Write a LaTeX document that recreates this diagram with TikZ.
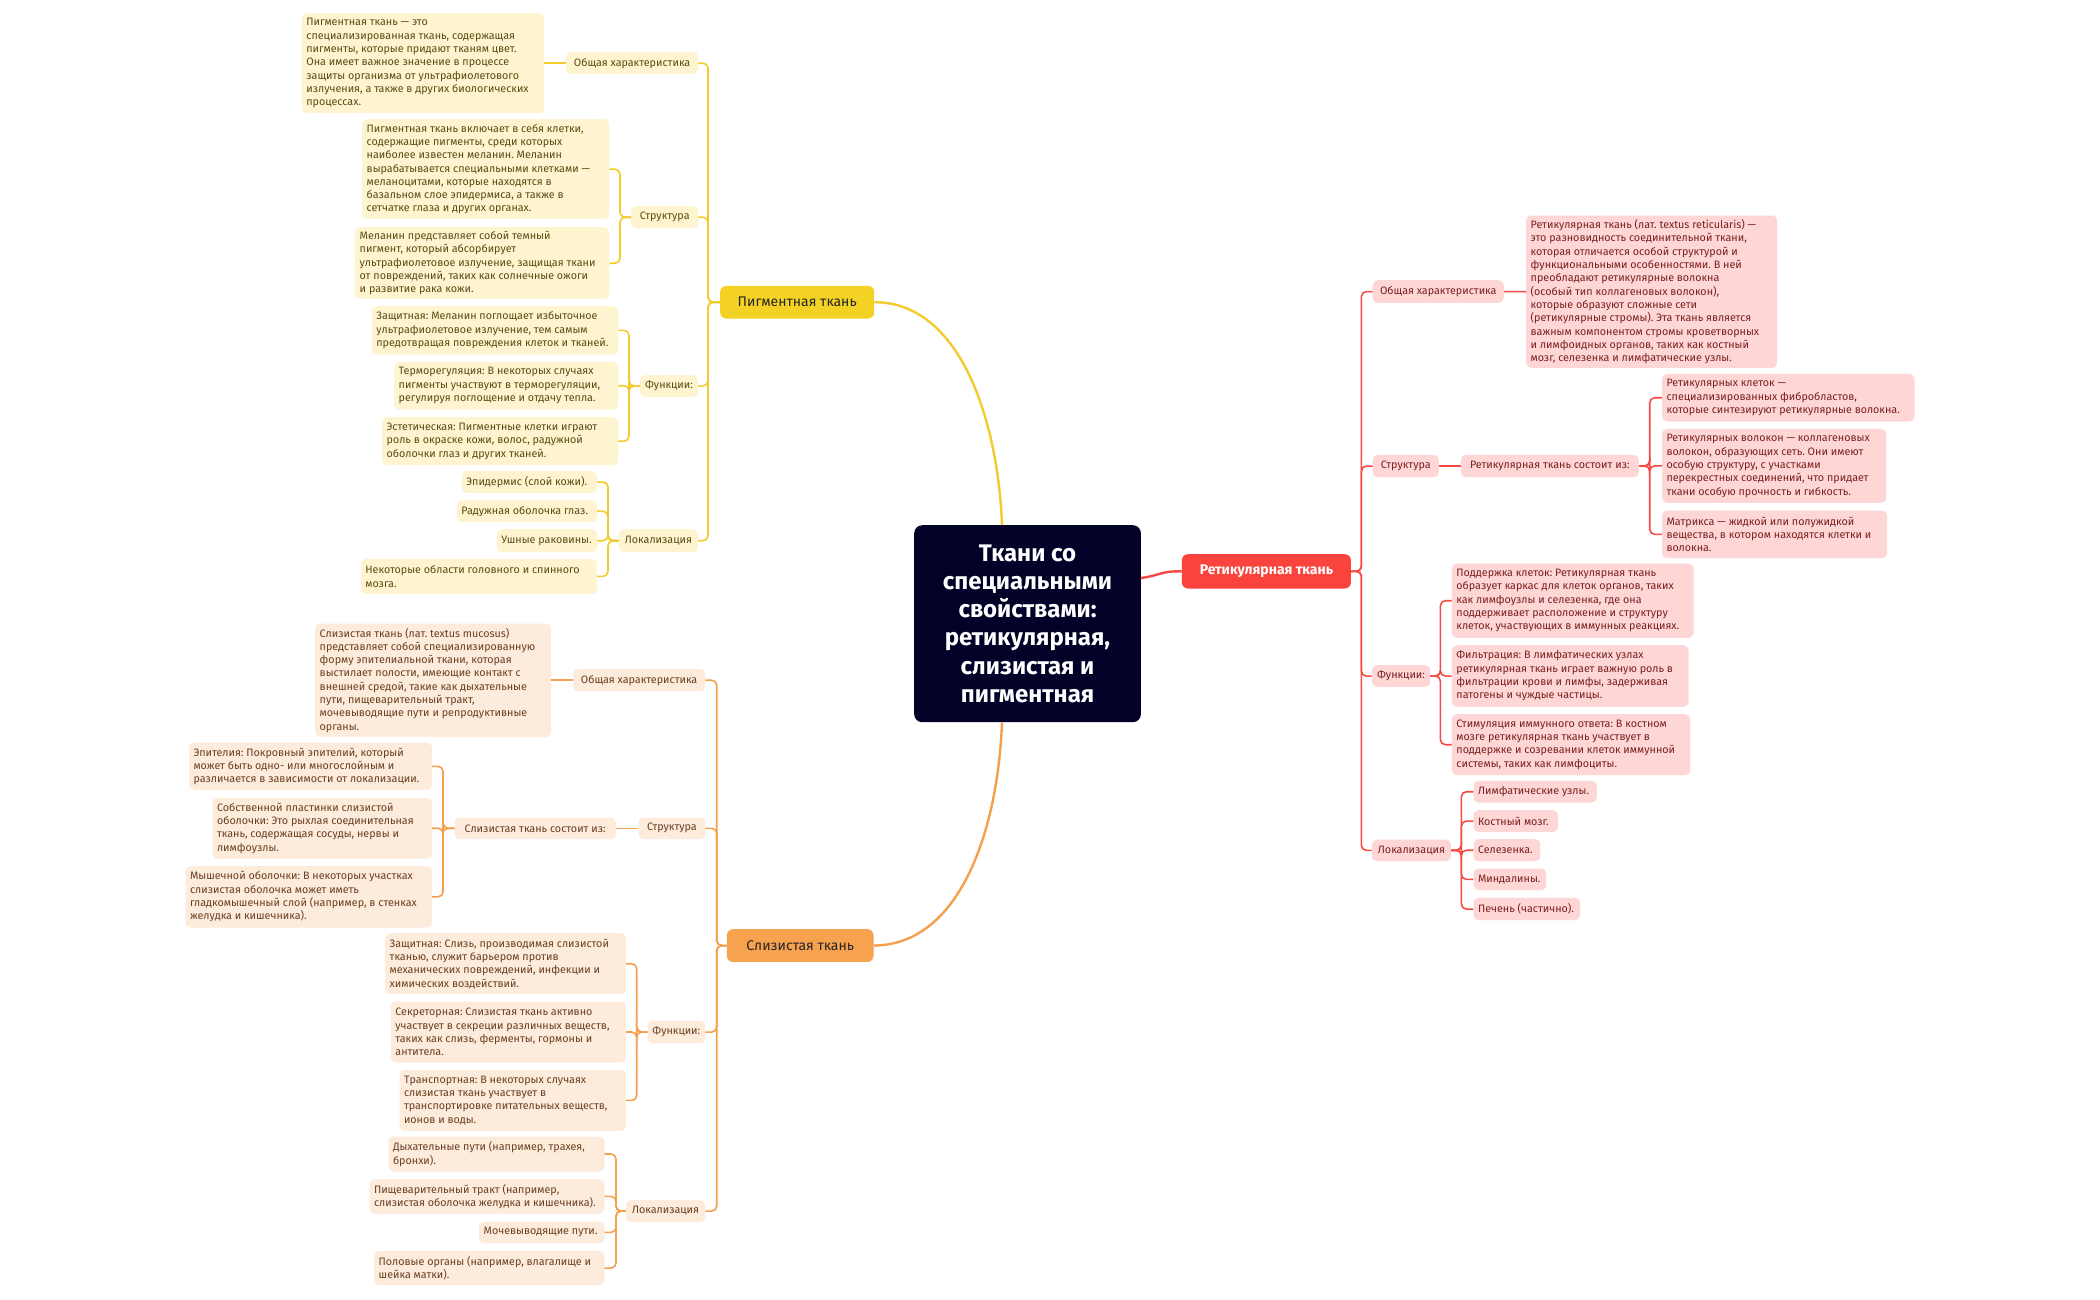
\documentclass[tikz,border=0pt]{standalone}
\usepackage{fontspec}
\setmainfont{Fira Sans}
\frenchspacing
\definecolor{pigM}{HTML}{F4D224}
\definecolor{pigL}{HTML}{FEF5D0}
\definecolor{pigLn}{HTML}{F2CC2C}
\definecolor{pigT}{HTML}{5B4B12}
\definecolor{mucM}{HTML}{F7A24E}
\definecolor{mucL}{HTML}{FDEBDB}
\definecolor{mucLn}{HTML}{F5A04C}
\definecolor{mucT}{HTML}{6A4020}
\definecolor{retM}{HTML}{F9443E}
\definecolor{retL}{HTML}{FED6D6}
\definecolor{retLn}{HTML}{F74A45}
\definecolor{retT}{HTML}{7A2020}
\definecolor{ctrF}{HTML}{020228}
% leaf: box + left-aligned text
\newcommand\nd[7]{%
  \pgfmathsetmacro\ndw{#5-#3}%
  \pgfmathsetmacro\ndh{#6-#4}%
  \node[#2, anchor=north west, minimum width=\ndw pt, minimum height=\ndh pt] (#1) at (#3,#4) {};
  \node[#2, fill=none, anchor=west, inner sep=0pt, align=left] at ([xshift=4.5pt]#1.west) {\frenchspacing #7};}
% pill / main: box + centred text
\newcommand\np[7]{%
  \pgfmathsetmacro\ndw{#5-#3}%
  \pgfmathsetmacro\ndh{#6-#4}%
  \node[#2, anchor=north west, minimum width=\ndw pt, minimum height=\ndh pt] (#1) at (#3,#4) {};
  \node[#2, fill=none, anchor=center, inner sep=0pt, align=center] at (#1.center) {\frenchspacing #7};}
\tikzset{
  box/.style={rounded corners=5pt, inner sep=0pt,
    font=\fontsize{10.75}{13.3}\selectfont},
  pleaf/.style={box, fill=pigL, text=pigT},
  mleaf/.style={box, fill=mucL, text=mucT},
  rleaf/.style={box, fill=retL, text=retT},
  mainnode/.style={rounded corners=6pt, inner sep=0pt,
    font=\fontsize{14}{16}\selectfont},
  pline/.style={draw=pigLn, line width=1.6pt, rounded corners=5pt},
  mline/.style={draw=mucLn, line width=1.6pt, rounded corners=5pt},
  rline/.style={draw=retLn, line width=1.6pt, rounded corners=5pt},
  pmain/.style={draw=pigLn, line width=2.4pt},
  mmain/.style={draw=mucLn, line width=2.4pt},
  rmain/.style={draw=retLn, line width=2.4pt},
}
\begin{document}
\begin{tikzpicture}[x=1pt,y=-1pt]
\useasboundingbox[fill=white] (0,0) rectangle (2100,1299);

% ---------- centre ----------
\np{c}{rounded corners=8pt, inner sep=0pt, fill=ctrF, text=white,
  font=\fontsize{24}{28.3}\selectfont\bfseries}{914}{525}{1140.7}{722}
  {Ткани со\\специальными\\свойствами:\\ретикулярная,\\слизистая и\\пигментная}

% ---------- main branches ----------
\np{pm}{mainnode, fill=pigM, text=black!85}{720}{285.7}{874}{318.3}{Пигментная ткань}
\np{mm}{mainnode, fill=mucM, text=black!85}{726.7}{929}{873.3}{961.7}{Слизистая ткань}
\np{rm}{mainnode, fill=retM, text=white, font=\fontsize{14}{16}\selectfont\bfseries}{1181.7}{554}{1350.7}{588.3}{Ретикулярная ткань}

\draw[pmain] (pm.east) .. controls (960,302) and (998,420) .. ([xshift=88pt]c.north west);
\draw[mmain] (mm.east) .. controls (960,945) and (998,830) .. ([xshift=88pt]c.south west);
\draw[rmain] ([yshift=-53pt]c.north east) .. controls (1162,575) and (1160,571) .. (rm.west);

% ---------- pigment ----------
\np{pg}{pleaf}{565.7}{52}{698}{74}{Общая характеристика}
\nd{pgt}{pleaf}{301.7}{13}{544}{113}{Пигментная ткань — это\\специализированная ткань, содержащая\\пигменты, которые придают тканям цвет.\\Она имеет важное значение в процессе\\защиты организма от ультрафиолетового\\излучения, а также в других биологических\\процессах.}
\np{ps}{pleaf}{631}{206}{698}{228}{Структура}
\nd{psa}{pleaf}{362}{119}{609}{219}{Пигментная ткань включает в себя клетки,\\содержащие пигменты, среди которых\\наиболее известен меланин. Меланин\\вырабатывается специальными клетками —\\меланоцитами, которые находятся в\\базальном слое эпидермиса, а также в\\сетчатке глаза и других органах.}
\nd{psb}{pleaf}{355}{227}{609}{299}{Меланин представляет собой темный\\пигмент, который абсорбирует\\ультрафиолетовое излучение, защищая ткани\\от повреждений, таких как солнечные ожоги\\и развитие рака кожи.}
\np{pf}{pleaf}{640}{375}{697.7}{396.7}{Функции:}
\nd{pfa}{pleaf}{371.7}{306}{618}{354.3}{Защитная: Меланин поглощает избыточное\\ультрафиолетовое излучение, тем самым\\предотвращая повреждения клеток и тканей.}
\nd{pfb}{pleaf}{394}{361.7}{618}{409.3}{Терморегуляция: В некоторых случаях\\пигменты участвуют в терморегуляции,\\регулируя поглощение и отдачу тепла.}
\nd{pfc}{pleaf}{382}{417}{618}{465}{Эстетическая: Пигментные клетки играют\\роль в окраске кожи, волос, радужной\\оболочки глаз и других тканей.}
\np{pl}{pleaf}{618.7}{529}{697.7}{552}{Локализация}
\nd{pla}{pleaf}{461.7}{471}{596.7}{492.7}{Эпидермис (слой кожи).}
\nd{plb}{pleaf}{456.7}{500}{596.7}{522}{Радужная оболочка глаз.}
\nd{plc}{pleaf}{496.7}{529}{596.7}{552}{Ушные раковины.}
\nd{pld}{pleaf}{360.7}{558.7}{596.7}{593.7}{Некоторые области головного и спинного\\мозга.}

\foreach \k in {pg,ps,pf,pl} \draw[pline] (pm.west) -- ++(-12,0) |- (\k.east);
\draw[pline] (pg.west) -- (pgt.east);
\foreach \k in {psa,psb} \draw[pline] (ps.west) -- ++(-11,0) |- (\k.east);
\foreach \k in {pfa,pfb,pfc} \draw[pline] (pf.west) -- ++(-11,0) |- (\k.east);
\foreach \k in {pla,plb,plc,pld} \draw[pline] (pl.west) -- ++(-10.7,0) |- (\k.east);

% ---------- mucous ----------
\np{mg}{mleaf}{572.8}{669}{705}{691}{Общая характеристика}
\nd{mgt}{mleaf}{315}{623.3}{551}{736.7}{Слизистая ткань (лат. textus mucosus)\\представляет собой специализированную\\форму эпителиальной ткани, которая\\выстилает полости, имеющие контакт с\\внешней средой, такие как дыхательные\\пути, пищеварительный тракт,\\мочевыводящие пути и репродуктивные\\органы.}
\np{ms}{mleaf}{638.4}{817.3}{705}{839}{Структура}
\np{msm}{mleaf}{454.3}{817.3}{615.6}{839}{Слизистая ткань состоит из:}
\nd{msa}{mleaf}{188.8}{742.3}{431.8}{790}{Эпителия: Покровный эпителий, который\\может быть одно- или многослойным и\\различается в зависимости от локализации.}
\nd{msb}{mleaf}{212.3}{797.7}{431.8}{858.3}{Собственной пластинки слизистой\\оболочки: Это рыхлая соединительная\\ткань, содержащая сосуды, нервы и\\лимфоузлы.}
\nd{msc}{mleaf}{185.3}{866}{431.8}{927.3}{Мышечной оболочки: В некоторых участках\\слизистая оболочка может иметь\\гладкомышечный слой (например, в стенках\\желудка и кишечника).}
\np{mf}{mleaf}{647.3}{1020.7}{705}{1043}{Функции:}
\nd{mfa}{mleaf}{385}{933}{625.7}{994}{Защитная: Слизь, производимая слизистой\\тканью, служит барьером против\\механических повреждений, инфекции и\\химических воздействий.}
\nd{mfb}{mleaf}{390.7}{1001.3}{625.7}{1062.3}{Секреторная: Слизистая ткань активно\\участвует в секреции различных веществ,\\таких как слизь, ферменты, гормоны и\\антитела.}
\nd{mfc}{mleaf}{399.3}{1069.7}{625.7}{1130.7}{Транспортная: В некоторых случаях\\слизистая ткань участвует в\\транспортировке питательных веществ,\\ионов и воды.}
\np{ml}{mleaf}{625.7}{1200}{705}{1221.7}{Локализация}
\nd{mla}{mleaf}{388.3}{1136.3}{604.3}{1171.3}{Дыхательные пути (например, трахея,\\бронхи).}
\nd{mlb}{mleaf}{369.3}{1179}{604.3}{1213.3}{Пищеварительный тракт (например,\\слизистая оболочка желудка и кишечника).}
\nd{mlc}{mleaf}{479}{1221.3}{604.3}{1243}{Мочевыводящие пути.}
\nd{mld}{mleaf}{374}{1250.7}{604.3}{1285}{Половые органы (например, влагалище и\\шейка матки).}

\foreach \k in {mg,ms,mf,ml} \draw[mline] (mm.west) -- ++(-10,0) |- (\k.east);
\draw[mline] (mg.west) -- (mgt.east);
\draw[mline] (ms.west) -- (msm.east);
\foreach \k in {msa,msb,msc} \draw[mline] (msm.west) -- ++(-11.3,0) |- (\k.east);
\foreach \k in {mfa,mfb,mfc} \draw[mline] (mf.west) -- ++(-10.6,0) |- (\k.east);
\foreach \k in {mla,mlb,mlc,mld} \draw[mline] (ml.west) -- ++(-9.7,0) |- (\k.east);

% ---------- reticular ----------
\np{rg}{rleaf}{1372.5}{280}{1503.6}{302.7}{Общая характеристика}
\nd{rgt}{rleaf}{1526}{215.3}{1777}{367.7}{Ретикулярная ткань (лат. textus reticularis) —\\это разновидность соединительной ткани,\\которая отличается особой структурой и\\функциональными особенностями. В ней\\преобладают ретикулярные волокна\\(особый тип коллагеновых волокон),\\которые образуют сложные сети\\(ретикулярные стромы). Эта ткань является\\важным компонентом стромы кроветворных\\и лимфоидных органов, таких как костный\\мозг, селезенка и лимфатические узлы.}
\np{rs}{rleaf}{1372.5}{454.7}{1438.6}{477}{Структура}
\np{rsm}{rleaf}{1460.7}{454.7}{1638.6}{477}{Ретикулярная ткань состоит из:}
\nd{rsa}{rleaf}{1661.8}{373.7}{1914.3}{421.3}{Ретикулярных клеток —\\специализированных фибробластов,\\которые синтезируют ретикулярные волокна.}
\nd{rsb}{rleaf}{1661.8}{428.7}{1886}{502.7}{Ретикулярных волокон — коллагеновых\\волокон, образующих сеть. Они имеют\\особую структуру, с участками\\перекрестных соединений, что придает\\ткани особую прочность и гибкость.}
\nd{rsc}{rleaf}{1661.8}{510.3}{1886.8}{558}{Матрикса — жидкой или полужидкой\\вещества, в котором находятся клетки и\\волокна.}
\np{rf}{rleaf}{1371.7}{665}{1430}{686.7}{Функции:}
\nd{rfa}{rleaf}{1451.7}{563.3}{1693.3}{637.7}{Поддержка клеток: Ретикулярная ткань\\образует каркас для клеток органов, таких\\как лимфоузлы и селезенка, где она\\поддерживает расположение и структуру\\клеток, участвующих в иммунных реакциях.}
\nd{rfb}{rleaf}{1451.7}{645}{1688.3}{706.7}{Фильтрация: В лимфатических узлах\\ретикулярная ткань играет важную роль в\\фильтрации крови и лимфы, задерживая\\патогены и чуждые частицы.}
\nd{rfc}{rleaf}{1451.7}{714}{1690}{775}{Стимуляция иммунного ответа: В костном\\мозге ретикулярная ткань участвует в\\поддержке и созревании клеток иммунной\\системы, таких как лимфоциты.}
\np{rl}{rleaf}{1371.7}{839.3}{1450.7}{861}{Локализация}
\nd{rla}{rleaf}{1473.3}{780.7}{1596.7}{802.3}{Лимфатические узлы.}
\nd{rlb}{rleaf}{1473.3}{810}{1557.7}{831.7}{Костный мозг.}
\nd{rlc}{rleaf}{1473.3}{839}{1540}{861}{Селезенка.}
\nd{rld}{rleaf}{1473.3}{868.3}{1546}{890}{Миндалины.}
\nd{rle}{rleaf}{1473.3}{897.7}{1580}{920}{Печень (частично).}

\foreach \k in {rg,rs,rf,rl} \draw[rline] (rm.east) -- ++(10.3,0) |- (\k.west);
\draw[rline] (rg.east) -- (rgt.west);
\draw[rline] (rs.east) -- (rsm.west);
\foreach \k in {rsa,rsb,rsc} \draw[rline] (rsm.east) -- ++(10.7,0) |- (\k.west);
\foreach \k in {rfa,rfb,rfc} \draw[rline] (rf.east) -- ++(10,0) |- (\k.west);
\foreach \k in {rla,rlb,rlc,rld,rle} \draw[rline] (rl.east) -- ++(10.3,0) |- (\k.west);
\end{tikzpicture}
\end{document}
